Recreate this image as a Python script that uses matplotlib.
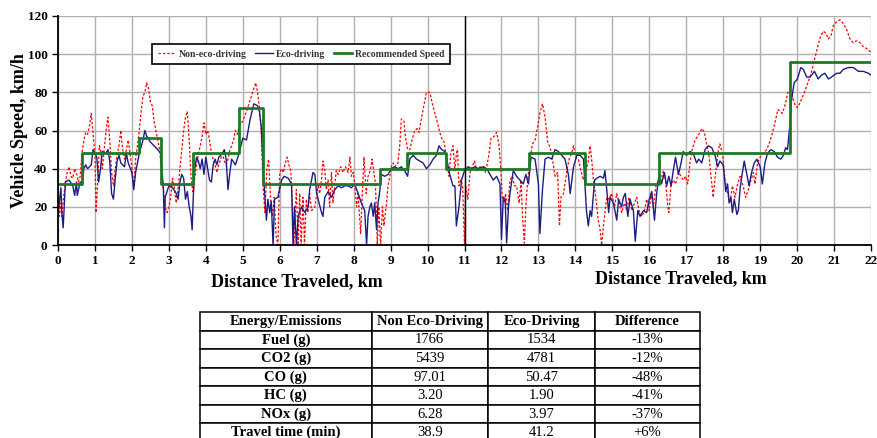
import numpy as np
import matplotlib
matplotlib.use('Agg')
import matplotlib.pyplot as plt

plt.rcParams['font.family'] = 'Liberation Serif'
plt.rcParams['font.weight'] = 'bold'

# recommended speed (step changes)
rec_km = [0, 0.65, 2.2, 2.8, 3.65, 4.9, 5.55, 8.7, 9.45, 10.5, 12.75, 14.25, 16.25, 19.8, 22]
rec_speed = [32, 48, 56, 32, 48, 72, 32, 40, 48, 40, 48, 32, 48, 96, 96]

# eco-driving trace
eco_km = [0.0, 0.05, 0.08, 0.1, 0.14, 0.2, 0.3, 0.4, 0.45, 0.5, 0.52, 0.6, 0.65, 0.7, 0.75, 0.8, 0.9, 0.95,
          1.0, 1.05, 1.1, 1.15, 1.2, 1.3, 1.35, 1.4, 1.45, 1.5, 1.55, 1.6, 1.65, 1.7, 1.8, 1.85, 1.9,
          2.0, 2.05, 2.1, 2.2, 2.3, 2.35, 2.4, 2.5, 2.6, 2.7, 2.78, 2.85, 2.88, 2.9,
          3.0, 3.1, 3.2, 3.25, 3.3, 3.35, 3.4, 3.45, 3.5, 3.55, 3.6, 3.63, 3.66, 3.7, 3.75, 3.8, 3.85, 3.9, 3.95,
          4.0, 4.05, 4.1, 4.15, 4.2, 4.25, 4.3, 4.35, 4.45, 4.5, 4.55, 4.6, 4.65, 4.7, 4.8, 4.9,
          5.0, 5.1, 5.2, 5.3, 5.4, 5.45, 5.5, 5.55, 5.64, 5.68, 5.73, 5.77, 5.82, 5.86, 5.95,
          6.05, 6.12, 6.23, 6.32, 6.36, 6.4, 6.45, 6.5, 6.59, 6.68, 6.77, 6.81, 6.9, 6.95,
          7.0, 7.04, 7.13, 7.17, 7.22, 7.31, 7.4, 7.49, 7.58, 7.67, 7.76, 7.85, 7.94,
          8.03, 8.12, 8.21, 8.3, 8.35, 8.39, 8.44, 8.48, 8.53, 8.57, 8.62, 8.66, 8.7, 8.75, 8.84, 8.93,
          9.02, 9.11, 9.2, 9.29, 9.38, 9.46, 9.52, 9.61, 9.7, 9.79, 9.88, 9.97,
          10.06, 10.15, 10.24, 10.31, 10.38, 10.47, 10.54, 10.6, 10.69, 10.74, 10.78, 10.85, 10.92,
          11.0, 11.1, 11.19, 11.28, 11.37, 11.51, 11.6, 11.69, 11.78, 11.87, 11.96,
          12.0, 12.05, 12.1, 12.14, 12.19, 12.23, 12.32, 12.41, 12.5, 12.59, 12.66, 12.73, 12.8, 12.91,
          13.0, 13.04, 13.11, 13.18, 13.27, 13.36, 13.45, 13.54, 13.63, 13.72, 13.81, 13.86, 13.95,
          14.04, 14.13, 14.22, 14.26, 14.3, 14.35, 14.4, 14.44, 14.52, 14.58, 14.67, 14.76, 14.8, 14.85, 14.9, 14.94,
          15.03, 15.12, 15.17, 15.25, 15.3, 15.35, 15.42, 15.48, 15.57, 15.62, 15.69, 15.75, 15.84, 15.93,
          16.0, 16.07, 16.14, 16.2, 16.26, 16.33, 16.41, 16.47, 16.53, 16.59, 16.65, 16.71, 16.79, 16.86, 16.92,
          17.01, 17.1, 17.19, 17.28, 17.34, 17.42, 17.51, 17.6, 17.69, 17.78, 17.85, 17.91,
          18.0, 18.07, 18.12, 18.16, 18.21, 18.25, 18.3, 18.37, 18.41, 18.46, 18.52, 18.57, 18.63, 18.7, 18.77, 18.84, 18.91,
          19.0, 19.06, 19.13, 19.2, 19.29, 19.38, 19.47, 19.56, 19.63, 19.69, 19.74, 19.81, 19.85, 19.92,
          20.01, 20.1, 20.17, 20.26, 20.35, 20.47, 20.57, 20.66, 20.75, 20.85, 20.93,
          21.07, 21.16, 21.25, 21.39, 21.52, 21.66, 21.79, 21.93, 22.0]
eco_speed = [15, 25, 30, 18, 9, 33, 34, 31, 26, 33, 26, 33, 33, 40, 42, 40, 42, 50,
             48, 46, 33, 40, 49, 48, 50, 44, 27, 24, 35, 44, 47, 43, 41, 48, 43,
             38, 29, 38, 48, 55, 60, 57, 54, 52, 50, 48, 30, 9, 25,
             31, 30, 27, 24, 33, 37, 35, 24, 28, 20, 15, 8, 25, 40, 46, 44, 40, 45, 37,
             46, 40, 34, 33, 42, 45, 42, 46, 48, 50, 45, 29, 38, 45, 42, 48,
             56, 55, 66, 74, 73, 70, 62, 40, 13, 24, 17, 23, 0, 24, 25,
             34, 36, 35, 32, 0, 20, 0, 15, 20, 17, 20, 29, 38, 37,
             27, 24, 17, 15, 25, 28, 25, 29, 31, 30, 31, 31, 30,
             32, 27, 22, 18, 0, 15, 20, 22, 15, 22, 8, 22, 27, 37, 36, 37,
             40, 41, 40, 41, 39, 36, 45, 47, 45, 44, 43, 40,
             42, 45, 47, 52, 50, 49, 43, 37, 31, 31, 10, 20, 34,
             39, 41, 40, 41, 40, 41, 40, 37, 34, 36, 32,
             3, 25, 24, 1, 20, 27, 39, 36, 34, 32, 37, 32, 46, 45,
             32, 6, 29, 45, 46, 45, 50, 49, 47, 45, 37, 27, 41,
             47, 47, 45, 31, 18, 10, 18, 15, 34, 35, 36, 35, 39, 29, 17, 25,
             22, 13, 24, 20, 25, 27, 15, 24, 18, 2, 18, 15, 18, 17,
             24, 28, 13, 27, 36, 32, 38, 31, 36, 31, 39, 46, 37, 43, 49,
             47, 49, 48, 43, 45, 43, 50, 52, 51, 47, 41, 44,
             42, 28, 32, 22, 25, 17, 24, 16, 18, 30, 38, 44, 38, 31, 38, 43, 45,
             41, 32, 43, 48, 50, 49, 46, 45, 47, 51, 50, 64, 76, 85,
             87, 93, 92, 88, 88, 91, 87, 89, 90, 87, 88,
             90, 90, 92, 93, 93, 91, 91, 90, 89]

# non-eco-driving trace
non_km = [0.0, 0.03, 0.05, 0.1, 0.15, 0.2, 0.25, 0.3, 0.35, 0.4, 0.45, 0.5, 0.55, 0.6, 0.65, 0.7, 0.75, 0.8, 0.85, 0.9, 0.95,
          1.0, 1.03, 1.08, 1.12, 1.15, 1.2, 1.25, 1.3, 1.35, 1.4, 1.45, 1.5, 1.55, 1.6, 1.65, 1.7, 1.75, 1.8, 1.85, 1.9, 1.95,
          2.0, 2.05, 2.1, 2.15, 2.2, 2.25, 2.3, 2.35, 2.4, 2.45, 2.5, 2.55, 2.6, 2.65, 2.7, 2.75, 2.8, 2.85, 2.9, 2.95,
          3.0, 3.05, 3.1, 3.15, 3.2, 3.25, 3.3, 3.35, 3.4, 3.45, 3.5, 3.55, 3.6, 3.65, 3.7, 3.75, 3.8, 3.85, 3.9, 3.95,
          4.0, 4.05, 4.1, 4.15, 4.2, 4.25, 4.3, 4.35, 4.4, 4.45, 4.5, 4.55, 4.6, 4.65, 4.7, 4.75, 4.8, 4.85, 4.9,
          5.0, 5.1, 5.2, 5.3, 5.35, 5.4, 5.45, 5.5, 5.55, 5.6, 5.65, 5.7, 5.75, 5.8, 5.85, 5.9, 5.95,
          6.0, 6.05, 6.1, 6.15, 6.2, 6.25, 6.3, 6.36, 6.38, 6.45, 6.5, 6.54, 6.58, 6.63, 6.67, 6.72, 6.76, 6.81, 6.86, 6.95,
          7.04, 7.08, 7.13, 7.17, 7.22, 7.26, 7.31, 7.35, 7.4, 7.44, 7.49, 7.53, 7.58, 7.65, 7.71, 7.78, 7.85, 7.9, 7.94, 7.99,
          8.03, 8.08, 8.12, 8.19, 8.23, 8.28, 8.34, 8.39, 8.45, 8.5, 8.55, 8.59, 8.64, 8.68, 8.73, 8.78, 8.82, 8.89, 8.93, 8.98,
          9.02, 9.07, 9.11, 9.2, 9.25, 9.29, 9.36, 9.4, 9.46, 9.52, 9.58, 9.65, 9.72, 9.77, 9.84, 9.91, 9.97,
          10.06, 10.13, 10.2, 10.27, 10.33, 10.4, 10.45, 10.51, 10.58, 10.63, 10.69, 10.74, 10.78, 10.81, 10.85, 10.9, 10.95,
          11.0, 11.03, 11.09, 11.15, 11.21, 11.27, 11.33, 11.42, 11.51, 11.57, 11.65, 11.72, 11.81, 11.87, 11.93, 11.99,
          12.02, 12.08, 12.11, 12.17, 12.23, 12.3, 12.35, 12.41, 12.48, 12.53, 12.57, 12.62, 12.66, 12.71, 12.77, 12.84, 12.91, 12.98,
          13.04, 13.11, 13.18, 13.25, 13.32, 13.38, 13.45, 13.52, 13.57, 13.61, 13.68, 13.77, 13.83, 13.9, 13.95,
          14.01, 14.08, 14.15, 14.22, 14.28, 14.34, 14.4, 14.44, 14.49, 14.54, 14.58, 14.62, 14.67, 14.71, 14.76, 14.8, 14.85, 14.91, 14.98,
          15.06, 15.12, 15.18, 15.25, 15.33, 15.39, 15.45, 15.53, 15.6, 15.66, 15.72, 15.8, 15.87, 15.93,
          16.0, 16.05, 16.11, 16.18, 16.25, 16.32, 16.38, 16.44, 16.5, 16.53, 16.59, 16.65, 16.71, 16.79, 16.86, 16.92, 16.98,
          17.04, 17.1, 17.16, 17.24, 17.31, 17.37, 17.43, 17.49, 17.55, 17.61, 17.67, 17.73, 17.8, 17.87, 17.91, 17.98,
          18.05, 18.12, 18.18, 18.25, 18.32, 18.39, 18.46, 18.54, 18.61, 18.68, 18.75, 18.82, 18.86, 18.93,
          19.0, 19.09, 19.18, 19.24, 19.31, 19.4, 19.48, 19.54, 19.6, 19.67, 19.75, 19.81, 19.87, 19.95,
          20.02, 20.11, 20.2, 20.29, 20.38, 20.47, 20.56, 20.63, 20.71, 20.78, 20.85, 20.92, 20.98,
          21.07, 21.16, 21.25, 21.34, 21.43, 21.52, 21.6, 21.7, 21.79, 21.88, 22.0]
non_speed = [20, 15, 22, 15, 25, 33, 38, 41, 36, 35, 40, 38, 33, 36, 48, 55, 59, 58, 62, 69, 58,
             48, 17, 35, 52, 50, 40, 50, 60, 67, 55, 38, 31, 40, 47, 52, 60, 50, 45, 50, 55, 48,
             40, 30, 45, 52, 60, 70, 78, 80, 85, 82, 75, 73, 65, 60, 55, 50, 38, 30, 20, 17,
             20, 25, 35, 30, 22, 30, 40, 50, 60, 67, 70, 55, 35, 28, 35, 42, 48, 52, 57, 64,
             58, 60, 55, 48, 45, 42, 38, 42, 45, 48, 44, 42, 45, 50, 52, 55, 60, 58, 62,
             65, 70, 76, 82, 85, 80, 72, 60, 30, 17, 40, 45, 25, 15, 25, 5, 0,
             38, 40, 38, 43, 46, 42, 39, 13, 0, 29, 0, 27, 0, 25, 0, 24, 17, 27, 18, 20,
             32, 27, 34, 44, 39, 29, 34, 20, 38, 22, 31, 39, 37, 41, 38, 41, 38, 46, 36, 38,
             31, 20, 27, 6, 25, 46, 27, 36, 39, 45, 38, 32, 0, 20, 0, 20, 10, 22, 31, 36,
             41, 43, 41, 43, 53, 66, 65, 57, 50, 50, 55, 60, 61, 59, 67, 74, 80,
             80, 74, 69, 64, 59, 55, 54, 45, 36, 48, 52, 39, 48, 50, 31, 34, 31,
             0, 31, 24, 38, 41, 44, 39, 41, 41, 38, 46, 56, 57, 59, 53, 38,
             25, 22, 27, 18, 34, 36, 31, 31, 22, 34, 15, 1, 20, 34, 45, 53, 55, 62,
             69, 74, 67, 54, 51, 45, 36, 38, 10, 25, 27, 39, 45, 48, 52,
             46, 45, 39, 34, 38, 43, 52, 45, 34, 27, 20, 13, 8, 0, 10, 17, 25, 24, 27,
             20, 27, 22, 17, 22, 18, 25, 18, 22, 25, 18, 15, 18, 24,
             18, 27, 20, 31, 34, 34, 39, 34, 20, 17, 32, 34, 32, 38, 36, 34, 36,
             32, 43, 50, 55, 57, 59, 61, 59, 53, 48, 36, 25, 39, 50, 53, 48,
             34, 27, 22, 31, 25, 32, 36, 31, 25, 29, 34, 38, 32, 43,
             46, 48, 50, 53, 57, 64, 71, 70, 69, 73, 80, 81, 78, 73,
             72, 76, 80, 85, 90, 97, 104, 109, 112, 111, 108, 110, 115,
             117, 118, 116, 113, 108, 106, 107, 106, 104, 103, 101]

# emissions table
col_labels = ['Energy/Emissions', 'Non Eco-Driving', 'Eco-Driving', 'Difference']
row_labels = ['Fuel (g)', 'CO2 (g)', 'CO (g)', 'HC (g)', 'NOx (g)', 'Travel time (min)']
non_eco_vals = ['1766', '5439', '97.01', '3.20', '6.28', '38.9']
eco_vals = ['1534', '4781', '50.47', '1.90', '3.97', '41.2']
diff_vals = ['-13%', '-12%', '-48%', '-41%', '-37%', '+6%']

fig = plt.figure(figsize=(8.77, 4.38), dpi=100)
ax = fig.add_axes([58/877, 1 - 245/438, 813/877, 229/438])

ax.plot(non_km, non_speed, color='red', lw=0.9, linestyle=(0, (2, 1.5)), label='Non-eco-driving')
ax.plot(eco_km, eco_speed, color='#1c1c85', lw=1, label='Eco-driving')
ax.step(rec_km, rec_speed, where='post', color='#1e7a26', lw=2, label='Recommended Speed')
ax.axvline(11, color='black', lw=1)

ax.set_xlim(0, 22)
ax.set_ylim(0, 120)
ax.set_xticks(range(0, 23))
ax.set_yticks(range(0, 121, 20))
ax.grid(True, color='#b0b0b0', lw=1)
ax.set_axisbelow(True)
for s in ['top', 'right']:
    ax.spines[s].set_visible(False)
for s in ['left', 'bottom']:
    ax.spines[s].set_linewidth(1.3)
ax.tick_params(labelsize=9.5, length=4, width=1)
for lab in ax.get_xticklabels() + ax.get_yticklabels():
    lab.set_fontweight('bold')

ax.set_ylabel('Vehicle Speed, km/h', fontsize=13, fontweight='bold', labelpad=0)
fig.text(297/877, 1 - 282/438, 'Distance Traveled, km', fontsize=13, fontweight='bold', ha='center', va='center')
fig.text(681/877, 1 - 279/438, 'Distance Traveled, km', fontsize=13, fontweight='bold', ha='center', va='center')

leg = ax.legend(loc='center', bbox_to_anchor=(0.299, 0.834), ncol=3, fontsize=7, frameon=True,
                fancybox=False, edgecolor='black', framealpha=1, handlelength=1.8, handletextpad=0.35,
                columnspacing=0.9, borderpad=0.55)
leg.get_frame().set_linewidth(1.2)
for t in leg.get_texts():
    t.set_color('#333333')

# table below the chart
tax = fig.add_axes([200/877, 1 - 442/438, 500/877, 130/438])
tax.axis('off')
cells = [[row_labels[i], non_eco_vals[i], eco_vals[i], diff_vals[i]] for i in range(len(row_labels))]
tbl = tax.table(cellText=cells, colLabels=col_labels, cellLoc='center', bbox=[0, 0, 1, 1])
tbl.auto_set_font_size(False)
widths = [0.343, 0.233, 0.214, 0.21]
for (r, c), cell in tbl.get_celld().items():
    cell.set_width(widths[c])
    cell.set_linewidth(1.1)
    cell.get_text().set_fontsize(10.5)
    cell.get_text().set_fontweight('bold' if (r == 0 or c == 0) else 'normal')

fig.savefig('out.png', dpi=100)
